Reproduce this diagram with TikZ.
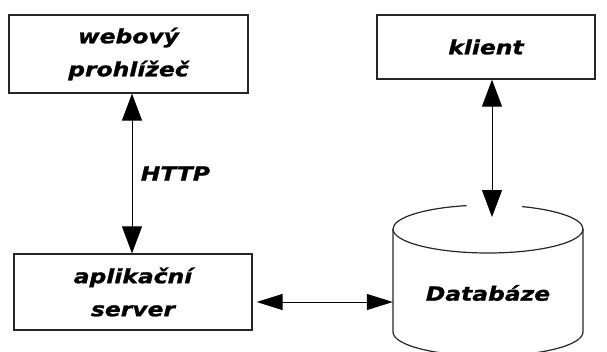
\documentclass[tikz,border=0pt]{standalone}
\usepackage{fontspec}
\setmainfont{DejaVu Sans}
\newfontfamily\labelfont[FakeStretch=1.2,FakeBold=1.2]{DejaVu Sans Bold Oblique}
\usetikzlibrary{arrows.meta}
\tikzset{
  box/.style={draw=black!85, line width=1.3pt, fill=white, inner sep=0pt},
  lbl/.style={font=\labelfont\fontsize{19.5}{33}\selectfont, align=center},
  link/.style={line width=1pt, {Triangle[length=27pt,width=20pt]}-{Triangle[length=27pt,width=20pt]}},
  hlink/.style={line width=1pt, {Triangle[length=26pt,width=16pt]}-{Triangle[length=26pt,width=16pt]}},
  outline/.style={draw=black!85, line width=1.2pt}
}
\begin{document}
\begin{tikzpicture}[x=1pt,y=-1pt]
  \useasboundingbox (0,0) rectangle (607,351);
  \clip (0,0) rectangle (607,351);

  % boxes
  \node[box, minimum width=239pt, minimum height=78pt, lbl] (browser) at (128.5,54) {webový\\prohlížeč};
  \node[box, minimum width=218pt, minimum height=64pt, lbl] (client) at (486,47) {klient};
  \node[box, minimum width=238pt, minimum height=76pt, lbl] (server) at (133,292) {aplikační\\server};

  % database cylinder
  \def\cx{488} \def\rx{95} \def\ry{24} \def\ytop{229} \def\ybot{332}
  \draw[outline] (\cx-\rx,\ytop) -- (\cx-\rx,\ybot)
       arc[start angle=180, end angle=360, x radius=\rx, y radius=-\ry]
       -- (\cx+\rx,\ytop);
  % lower rim of the lid
  \draw[outline] (\cx-\rx,\ytop) arc[start angle=180, end angle=360, x radius=\rx, y radius=-\ry];
  % upper rim of the lid, open where the arrow enters
  \draw[outline] (\cx-\rx,\ytop) arc[start angle=180, end angle=103, x radius=\rx, y radius=-\ry];
  \draw[outline] (\cx+\rx,\ytop) arc[start angle=0, end angle=69, x radius=\rx, y radius=-\ry];
  \node[lbl, minimum width=190pt, minimum height=100pt] (db) at (\cx,293) {Databáze};
  \coordinate (dbtop) at (492,217);

  % connectors
  \draw[link] (browser.south -| 132,0) -- node[lbl, right=5pt] (http) {HTTP} (server.north -| 132,0);
  \draw[link] (client.south -| dbtop) -- (dbtop);
  \draw[hlink] (server.east) ++(4pt,-10pt) coordinate (se) (se) -- (db.west |- se);
\end{tikzpicture}
\end{document}
